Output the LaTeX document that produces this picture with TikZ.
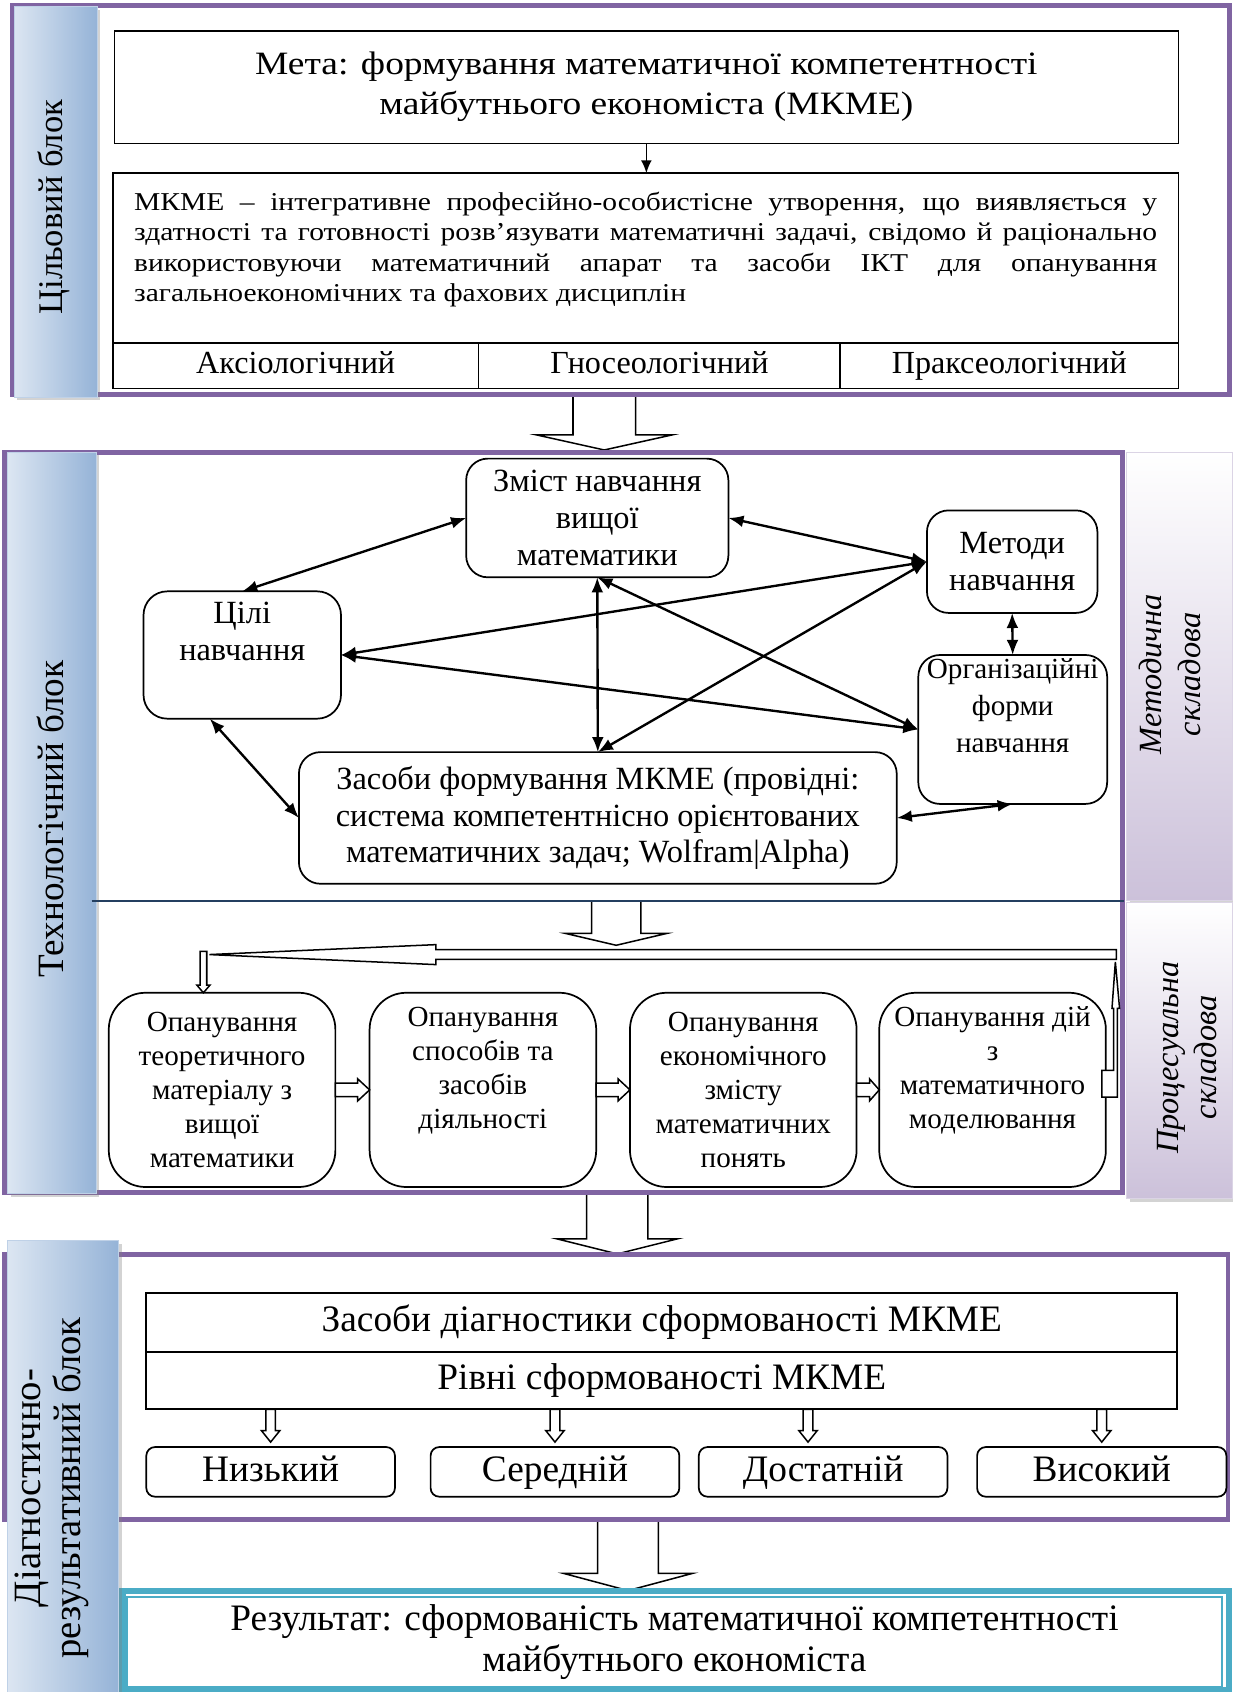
\documentclass[tikz,border=0pt]{standalone}
\usepackage{fontspec}
\setmainfont{Liberation Serif}
\newfontfamily\widefont{Liberation Serif}[FakeStretch=1.15]
\usetikzlibrary{positioning,calc,arrows.meta,shadows}
\definecolor{frameviolet}{HTML}{8064A2}
\definecolor{labelblue}{HTML}{95B3D7}
\definecolor{labelpale}{HTML}{DCE6F2}
\definecolor{labellilac}{HTML}{CCC1DA}
\definecolor{resteal}{HTML}{4BACC6}
\definecolor{sepnavy}{HTML}{243F60}

% hollow block arrows: from, to, shaft half width, head half width, head length
\newcommand{\blkdown}[5]{\draw[hollow] let \p1=#1, \p2=#2 in
  (\x1-#3,\y1) -- (\x1-#3,\y2+#5) -- (\x1-#4,\y2+#5) -- (\x1,\y2)
  -- (\x1+#4,\y2+#5) -- (\x1+#3,\y2+#5) -- (\x1+#3,\y1) -- cycle;}
\newcommand{\blkright}[5]{\draw[hollow] let \p1=#1, \p2=#2 in
  (\x1,\y1+#3) -- (\x2-#5,\y1+#3) -- (\x2-#5,\y1+#4) -- (\x2,\y1)
  -- (\x2-#5,\y1-#4) -- (\x2-#5,\y1-#3) -- (\x1,\y1-#3) -- cycle;}

\begin{document}
\begin{tikzpicture}[x=0.5pt, y=-0.5pt,
    sz/.style 2 args={minimum width=#1*0.5pt, minimum height=#2*0.5pt},
    box/.style={draw, line width=0.8pt, inner sep=0pt, outer sep=0pt, align=center, fill=white},
    tnode/.style={box, rounded corners=10pt, font=\fontsize{15}{17}\selectfont},
    pnode/.style={box, rounded corners=17pt, font=\fontsize{13.5}{15.75}\selectfont},
    lvl/.style={box, rounded corners=4pt, text height=12pt, text depth=3.5pt, font=\fontsize{17.3}{20}\selectfont},
    cell/.style={box, text height=10pt, text depth=3pt, font=\fontsize{14.9}{17}\selectfont},
    diagrow/.style={box, text height=12pt, text depth=3.5pt, font=\fontsize{17.3}{20}\selectfont},
    frame/.style={draw=frameviolet, line width=2.3pt},
    sidebox/.style={draw=labelblue!60, line width=0.4pt, left color=labelpale, right color=labelblue,
      drop shadow={shadow xshift=1.5pt, shadow yshift=-1.5pt, opacity=0.35}},
    partbox/.style={draw=labellilac!70, line width=0.4pt, top color=white, bottom color=labellilac,
      drop shadow={shadow xshift=1.5pt, shadow yshift=-1.5pt, opacity=0.35}},
    sidetext/.style={rotate=90, align=center, inner sep=0pt},
    parttext/.style={rotate=90, align=center, inner sep=0pt, font=\itshape\fontsize{15}{18}\selectfont},
    link/.style={<->, >={Latex[length=7pt, width=5.5pt]}, line width=1.1pt},
    hollow/.style={draw, fill=white, line width=0.7pt}]

  \useasboundingbox (0,0) rectangle (1142,1568);

  % big arrows between the blocks
  \coordinate (gA1) at (560,366);  \coordinate (gA2) at (560,417);
  \coordinate (gB1) at (571,835);  \coordinate (gB2) at (571,876);
  \coordinate (gC1) at (572,1105); \coordinate (gC2) at (572,1162);
  \coordinate (gD1) at (582,1408); \coordinate (gD2) at (582,1474);
  \blkdown{(gA1)}{(gA2)}{14.5pt}{31.5pt}{7pt}
  \blkdown{(gB1)}{(gB2)}{11.4pt}{23.5pt}{5.5pt}
  \blkdown{(gC1)}{(gC2)}{14.2pt}{28pt}{7pt}
  \blkdown{(gD1)}{(gD2)}{14.1pt}{30pt}{8pt}

  % block frames
  \draw[frame] (12,5.5) rectangle (1139.5,366);
  \draw[frame] (4.5,419) rectangle (1040.5,1105);
  \draw[frame] (4.5,1162.5) rectangle (1138,1408.5);
  \draw[resteal, line width=3pt] (113.5,1474.5) rectangle (1139,1566.5);

  % side labels
  \node (sideA) [sidebox, sz={77}{362}] at (51.5,187) {};
  \node (sideB) [sidebox, sz={82}{687}] at (48,762.5) {};
  \node (sideC) [sidebox, sz={103}{418.5}] at (58.5,1358.75) {};
  \node (partM) [partbox, sz={98}{415}] at (1093,626.5) {};
  \node (partP) [partbox, sz={98}{275}] at (1093,973.5) {};
  \node (sideAtxt) [sidetext, font=\fontsize{16}{19}\selectfont] at (50,192) {Цільовий блок};
  \node (sideBtxt) [sidetext, font=\fontsize{17.2}{20}\selectfont] at (47,759) {Технологічний блок};
  \node (sideCtxt) [sidetext, font=\fontsize{17.9}{18.5}\selectfont] at (48,1379) {Діагностично-\\результативний блок};
  \node (partMtxt) [parttext] at (1084,625) {Методична\\складова};
  \node (partPtxt) [parttext] at (1100,980) {Процесуальна\\складова};

  % goal block
  \node (meta) [box, sz={986}{104.6}, font=\widefont\fontsize{15.1}{18.5}\selectfont] at (599,80.7)
    {Мета: формування математичної компетентності\\майбутнього економіста (МКМЕ)};
  \node (desc) [box, sz={987.5}{157.4}] at (598.3,239.3) {};
  \node (desctxt) [text width=474pt, align=justify, inner sep=0pt,
    font=\widefont\fontsize{11.9}{14.1}\selectfont] at ([yshift=4pt]desc.center)
    {\hyphenpenalty=10000 \exhyphenpenalty=10000 \tolerance=10000
     МКМЕ – інтегративне професійно-особистісне утворення, що виявляється у\linebreak
     здатності та готовності розв’язувати математичні задачі, свідомо й раціонально\linebreak
     використовуючи математичний апарат та засоби ІКТ для опанування\linebreak
     загальноекономічних та фахових дисциплін};
  \node (ax) [cell, sz={339}{42}, anchor=north west] at (desc.south west) {Аксіологічний};
  \node (gn) [cell, sz={335.1}{42}, right=0pt of ax] {Гносеологічний};
  \node (pr) [cell, sz={313.4}{42}, right=0pt of gn] {Праксеологічний};
  \draw[-{Latex[length=6pt, width=5pt]}, line width=0.8pt] (meta.south) -- (meta.south |- desc.north);

  % methodical part
  \node (zmist) [tnode, sz={243}{110}] at (553.5,480) {Зміст навчання\\вищої\\математики};
  \node (cili) [tnode, sz={183}{118}, rounded corners=11pt] at (224.5,607) {Цілі\\навчання\\\strut};
  \node (zasoby) [tnode, sz={554}{122}] at (554,758)
    {Засоби формування МКМЕ (провідні:\\система компетентнісно орієнтованих\\математичних задач; Wolfram|Alpha)};
  \node (metody) [tnode, sz={158}{95}] at (938,520.5) {Методи\\навчання};
  \node (org) [tnode, sz={175}{138}, font=\fontsize{13.5}{17}\selectfont] at (938.5,676)
    {Організаційні\\форми\\навчання\\\strut};

  \draw[link] (cili.north) -- (zmist.west);
  \draw[link] (zmist.east) -- (metody.west);
  \draw[link] (metody.west) -- (cili.east);
  \draw[link] (metody.west) -- (zasoby.north);
  \draw[link] (zmist.south) -- (zasoby.north);
  \draw[link] (zmist.south) -- (org.west);
  \draw[link] (cili.east) -- (org.west);
  \draw[link] (cili.243) -- (zasoby.west);
  \draw[link] (metody.south) -- (org.north);
  \draw[link] (zasoby.east) -- (org.south);

  \draw[sepnavy, line width=0.8pt] (85,835) -- (1042,835);

  % procedural part
  \node (p1) [pnode, sz={210}{180}] at (205.8,1010) {Опанування\\теоретичного\\матеріалу з\\вищої\\математики};
  \node (p2) [pnode, sz={210}{180}] at (447.5,1010) {Опанування\\способів та\\засобів\\діяльності\\\strut};
  \node (p3) [pnode, sz={210}{180}] at (688.8,1010) {Опанування\\економічного\\змісту\\математичних\\понять};
  \node (p4) [pnode, sz={210}{180}] at (919.8,1010) {Опанування дій\\з\\математичного\\моделювання\\\strut};
  \blkright{(p1.east)}{(p2.west)}{3.15pt}{5.1pt}{5.5pt}
  \blkright{(p2.east)}{(p3.west)}{3.15pt}{5.1pt}{5.5pt}
  \blkright{(p3.east)}{(p4.west)}{3.15pt}{5.1pt}{4.5pt}

  % feedback loop back to the first stage
  \draw[hollow] (1021,1016.6) -- (1035.4,1016.6) -- (1035.4,934.4) -- (1037.5,934.4) -- (1033.6,891.4)
    -- (1030.5,934.4) -- (1032,934.4) -- (1032,992) -- (1021,992) -- cycle;
  \draw[hollow] (1034.5,880) -- (404,880) -- (404,875.4) -- (194,884.6) -- (404,893.9) -- (404,889)
    -- (1034.5,889) -- cycle;
  \draw[hollow] (185.4,881.6) -- (185.4,913) -- (182.5,913) -- (188.5,920) -- (194.5,913)
    -- (191.6,913) -- (191.6,881.6) -- cycle;

  % diagnostic block
  \node (diagA) [diagrow, sz={955.4}{55}] at (613.3,1225.5) {Засоби діагностики сформованості МКМЕ};
  \node (diagB) [diagrow, sz={955.4}{53}, below=0pt of diagA] {Рівні сформованості МКМЕ};
  \node (low) [lvl, sz={230.4}{46}] at (250.8,1364) {Низький};
  \node (mid) [lvl, sz={230.5}{46}] at (514.3,1364) {Середній};
  \node (suff) [lvl, sz={230.4}{46}] at (762.8,1364) {Достатній};
  \node (high) [lvl, sz={231}{46}] at (1021,1364) {Високий};
  \blkdown{(diagB.south -| low.north)}{($(low.north)+(0,-4.6)$)}{2.25pt}{4.25pt}{5.3pt}
  \blkdown{(diagB.south -| mid.north)}{($(mid.north)+(0,-4.6)$)}{2.25pt}{4.25pt}{5.3pt}
  \blkdown{($(diagB.south -| suff.north)+(-14,0)$)}{($(suff.north)+(-14,-4.6)$)}{2.25pt}{4.25pt}{5.3pt}
  \blkdown{(diagB.south -| high.north)}{($(high.north)+(0,-4.6)$)}{2.25pt}{4.25pt}{5.3pt}

  % result
  \node (res) [draw=resteal, line width=0.8pt, sz={1015}{83}, inner sep=0pt, align=center,
    font=\fontsize{17.3}{19}\selectfont] at (625,1521.5)
    {Результат: сформованість математичної компетентності\\майбутнього економіста};
\end{tikzpicture}
\end{document}
